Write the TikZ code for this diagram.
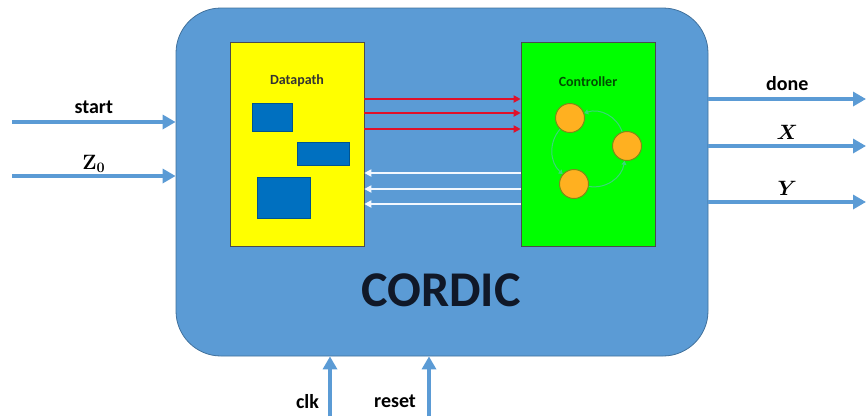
\documentclass[tikz,border=0pt]{standalone}
\usepackage{fontspec}
\setmainfont{Carlito}
\usetikzlibrary{arrows.meta,positioning}
\definecolor{cordicblue}{HTML}{5B9BD5}
\definecolor{cordicedge}{HTML}{41719C}
\definecolor{dpyellow}{HTML}{FFFF00}
\definecolor{ctrlgreen}{HTML}{00FF00}
\definecolor{regblue}{HTML}{0070C0}
\definecolor{busred}{HTML}{E0102A}
\definecolor{buswhite}{HTML}{F2F8FF}
\definecolor{stateorange}{HTML}{FFB020}
\definecolor{stateedge}{HTML}{7E8A18}
\definecolor{cycgreen}{HTML}{3AD67A}
\definecolor{titleink}{HTML}{101828}
\tikzset{
	sig/.style={line width=3.5pt, draw=cordicblue, -{Triangle[length=13pt,width=14pt]}},
	redbus/.style={line width=2.5pt, draw=busred, -{Triangle[length=7pt,width=7pt]}},
	whitebus/.style={line width=2.5pt, draw=buswhite, -{Triangle[length=7pt,width=7pt]}},
	block/.style={draw=gray!60!black, line width=0.6pt, minimum width=134pt, minimum height=204pt, inner sep=0pt},
	reg/.style={fill=regblue, draw=regblue!75!black, line width=0.6pt, inner sep=0pt},
	state/.style={circle, fill=stateorange, draw=stateedge, line width=1pt, minimum size=29pt, inner sep=0pt},
	cycarr/.style={line width=1pt, draw=cycgreen, -{Triangle[length=4pt,width=5pt]}},
	sigtext/.style={font=\bfseries\boldmath\fontsize{20}{24}\selectfont},
	blocktext/.style={font=\bfseries\fontsize{14}{16}\selectfont}
}

\begin{document}
\begin{tikzpicture}[x=1pt, y=-1pt]
		%%%%% START %%%%%
		\useasboundingbox (0,0) rectangle (868,416);
		
		\node[fill=cordicblue, draw=cordicedge, line width=0.8pt, rounded corners=45pt, minimum width=532pt, minimum height=348pt, inner sep=0pt] (cordic) at (442,182) {};
		\node[font=\bfseries\fontsize{50}{60}\selectfont, text=titleink] (title) at (441,290) {CORDIC};
		
		\node[block, fill=dpyellow] (dp) at (297,144) {};
		\node[blocktext, text=black!80] (dplabel) at (297,81) {Datapath};
		\node[reg, minimum width=40pt, minimum height=28pt] (r1) at (272,117) {};
		\node[reg, minimum width=52pt, minimum height=23pt] (r2) at (323,153.5) {};
		\node[reg, minimum width=53pt, minimum height=41pt] (r3) at (283.5,197.5) {};
		
		\node[block, fill=ctrlgreen] (ctrl) at (588,144) {};
		\node[blocktext, text=green!30!black] (ctrllabel) at (588,82) {Controller};
		\node[state] (s1) at (570,118) {};
		\node[state] (s2) at (627,146) {};
		\node[state] (s3) at (574,184) {};
		\draw[cycarr] (s2) to[bend right=45] (s1);
		\draw[cycarr] (s3) to[bend right=45] (s2);
		\draw[cycarr] (s1) to[bend right=45] (s3);
		
		\foreach \yy in {99,113,129}
			\draw[redbus] (dp.east |- 0,\yy) -- (ctrl.west |- 0,\yy);
		\foreach \yy in {173,189,204}
			\draw[whitebus] (ctrl.west |- 0,\yy) -- (dp.east |- 0,\yy);
		
		% inputs
		\coordinate (startsrc) at (12,122);
		\coordinate (zsrc) at (12,176);
		\coordinate (startin) at (startsrc -| cordic.west);
		\coordinate (zin) at (zsrc -| cordic.west);
		\draw[sig] (startsrc) -- node[sigtext, above=3pt] {start} (startin);
		\draw[sig] (zsrc) -- node[sigtext, above, yshift=-2pt] {$\mathbf{Z_0}$} (zin);
		
		% outputs
		\coordinate (doneout) at (866,99);
		\coordinate (xout) at (866,146);
		\coordinate (yout) at (866,202);
		\draw[sig] (cordic.east |- doneout) -- node[sigtext, above=3pt] {done} (doneout);
		\draw[sig] (cordic.east |- xout) -- node[sigtext, above=1pt] {$X$} (xout);
		\draw[sig] (cordic.east |- yout) -- node[sigtext, above=1pt] {$Y$} (yout);
		
		% clock and reset
		\coordinate (clksrc) at (330,416);
		\coordinate (rstsrc) at (429,416);
		\draw[sig] (clksrc) -- node[sigtext, pos=0.25, left=6pt] {clk} (clksrc |- cordic.south);
		\draw[sig] (rstsrc) -- node[sigtext, pos=0.25, left=8pt] {reset} (rstsrc |- cordic.south);
		
		%%%%% END %%%%%
	\end{tikzpicture}
\end{document}
